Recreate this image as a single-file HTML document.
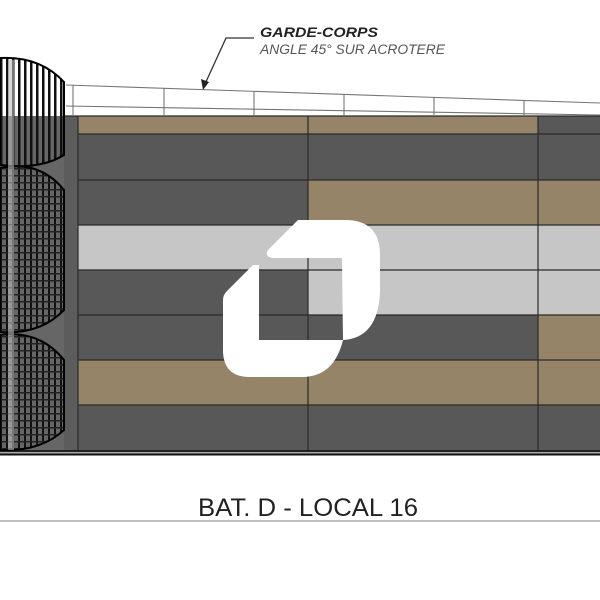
<!DOCTYPE html>
<html><head><meta charset="utf-8"><style>
html,body{margin:0;padding:0;background:#fff;width:600px;height:600px;overflow:hidden}
svg{display:block}
</style></head><body>
<svg width="600" height="600" viewBox="0 0 600 600" xmlns="http://www.w3.org/2000/svg">
<defs>
<pattern id="bars" width="6" height="6" patternUnits="userSpaceOnUse">
<rect x="0" y="0" width="2.5" height="6" fill="#111"/>
</pattern>
<pattern id="grid" width="6" height="7" patternUnits="userSpaceOnUse">
<rect x="0" y="0" width="2" height="7" fill="#111"/>
<rect x="0" y="0" width="6" height="1.5" fill="#222"/>
</pattern>
</defs>
<rect x="0" y="116" width="78" height="336" fill="#666"/>
<rect x="64" y="116" width="14" height="336" fill="#5c5c5c"/>
<g stroke="none">
<rect x="78" y="116" width="460" height="18" fill="#958468"/>
<rect x="538" y="116" width="62" height="18" fill="#585858"/>
<rect x="78" y="134" width="522" height="46" fill="#585858"/>
<rect x="78" y="180" width="230" height="45" fill="#585858"/>
<rect x="308" y="180" width="292" height="45" fill="#958468"/>
<rect x="78" y="225" width="522" height="45" fill="#c6c6c6"/>
<rect x="78" y="270" width="230" height="45" fill="#585858"/>
<rect x="308" y="270" width="292" height="45" fill="#c6c6c6"/>
<rect x="78" y="315" width="460" height="45" fill="#585858"/>
<rect x="538" y="315" width="62" height="45" fill="#958468"/>
<rect x="78" y="360" width="522" height="45" fill="#958468"/>
<rect x="78" y="405" width="522" height="45" fill="#585858"/>
</g>
<g stroke="#2a2a2a" stroke-width="1.2">
<line x1="64" y1="116" x2="600" y2="116"/>
<line x1="78" y1="134" x2="600" y2="134"/>
<line x1="78" y1="180" x2="600" y2="180"/>
<line x1="78" y1="225" x2="600" y2="225"/>
<line x1="78" y1="270" x2="600" y2="270"/>
<line x1="78" y1="315" x2="600" y2="315"/>
<line x1="78" y1="360" x2="600" y2="360"/>
<line x1="78" y1="405" x2="600" y2="405"/>
<line x1="78" y1="116" x2="78" y2="450"/>
<line x1="308" y1="116" x2="308" y2="450"/>
<line x1="538" y1="116" x2="538" y2="450"/>
</g>
<rect x="0" y="450" width="600" height="2" fill="#222"/>
<rect x="0" y="452" width="600" height="1.5" fill="#aaa"/>
<rect x="0" y="453.5" width="600" height="2" fill="#111"/>
<g stroke="#777" stroke-width="1.1" fill="none">
<line x1="66" y1="85" x2="600" y2="103"/>
<line x1="66" y1="106" x2="600" y2="115"/>
<line x1="73" y1="85" x2="73" y2="116"/>
<line x1="164" y1="88" x2="164" y2="116"/>
<line x1="254" y1="91" x2="254" y2="116"/>
<line x1="344" y1="94" x2="344" y2="116"/>
<line x1="434" y1="97" x2="434" y2="116"/>
<line x1="524" y1="100" x2="524" y2="116"/>
</g>
<g stroke="#000" stroke-width="2">
<path d="M0,58 Q40,56 64,82 L64,155 Q40,170 0,165 Z" fill="url(#bars)"/>
<path d="M0,168 Q40,160 64,190 L64,310 Q40,335 0,332 Z" fill="url(#grid)"/>
<path d="M0,335 Q40,330 64,360 L64,430 Q40,452 0,450 Z" fill="url(#grid)"/>
</g>
<rect x="8" y="60" width="6" height="390" fill="#bbb" opacity="0.6"/>
<polyline points="254,38 226,38 205,84" fill="none" stroke="#333" stroke-width="1.3"/>
<polygon points="203,90 201,79 209,82" fill="#222"/>
<text x="260" y="37" font-family="Liberation Sans, sans-serif" font-size="14" font-weight="bold" font-style="italic" fill="#222" textLength="118" lengthAdjust="spacingAndGlyphs">GARDE-CORPS</text>
<text x="260" y="54" font-family="Liberation Sans, sans-serif" font-size="13.5" font-style="italic" fill="#555" textLength="185" lengthAdjust="spacingAndGlyphs">ANGLE 45° SUR ACROTERE</text>
<line x1="0" y1="521" x2="600" y2="521" stroke="#999" stroke-width="1.2"/>
<text x="308" y="516" text-anchor="middle" font-family="Liberation Sans, sans-serif" font-size="25" fill="#222" textLength="220" lengthAdjust="spacingAndGlyphs">BAT. D - LOCAL 16</text>
<g fill="#fff">
<path d="M298,220 L345,220 Q380,220 380,255 L380,292 Q378,338 343,340 L342,258 L272,258 Q264,256 268,250 Z"/>
<path d="M253,265 L259,265 L259,340 L343,340 Q334,377 302,377 L250,377 Q223,377 223,350 L223,300 Q223,295 227,291 Z"/>
</g>
</svg>
</body></html>
